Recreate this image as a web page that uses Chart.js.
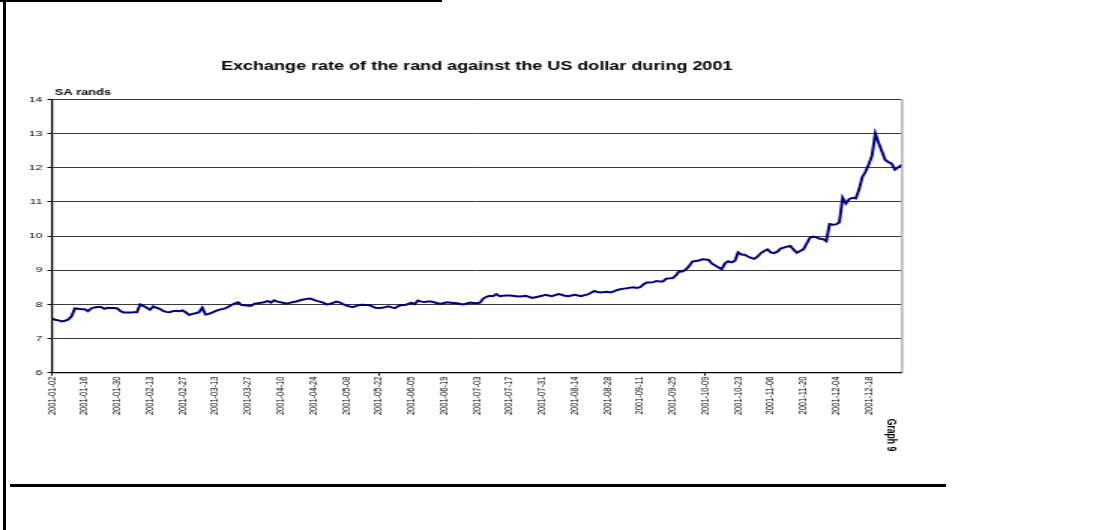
<!DOCTYPE html>
<html>
<head>
<meta charset="utf-8">
<script src="https://cdn.jsdelivr.net/npm/chart.js@4.4.1/dist/chart.umd.min.js"></script>
<style>
  html, body { margin: 0; padding: 0; background: #fff; width: 1111px; height: 530px; overflow: hidden; }
  #wrap { position: absolute; left: 0; top: 0; width: 740px; height: 530px; transform-origin: 0 0; transform: scaleX(1.5014); }
  .frame { position: absolute; background: #000; }
</style>
</head>
<body>
<div class="frame" style="left:3px;top:0;width:3px;height:530px"></div>
<div class="frame" style="left:0;top:0;width:442px;height:2px"></div>
<div class="frame" style="left:10px;top:484px;width:936px;height:3px"></div>
<div id="wrap"><canvas id="c"></canvas></div>
<script>
const chartTitle = 'Exchange rate of the rand against the US dollar during 2001';
const unitLabel = 'SA rands';
const graphLabel = 'Graph 9';
const tickLabels = ['2001-01-02','2001-01-16','2001-01-30','2001-02-13','2001-02-27','2001-03-13','2001-03-27','2001-04-10','2001-04-24','2001-05-08','2001-05-22','2001-06-05','2001-06-19','2001-07-03','2001-07-17','2001-07-31','2001-08-14','2001-08-28','2001-09-11','2001-09-25','2001-10-09','2001-10-23','2001-11-06','2001-11-20','2001-12-04','2001-12-18'];
const yMin = 6, yMax = 14, yStep = 1;
// Rand per US dollar, one value per business day
const values = [
7.58,7.55,7.53,7.50,7.52,7.56,7.65,7.88,7.87,7.86,
7.86,7.80,7.88,7.91,7.92,7.92,7.87,7.90,7.89,7.89,
7.88,7.80,7.76,7.76,7.76,7.77,7.77,8.00,7.95,7.90,
7.84,7.94,7.90,7.87,7.81,7.78,7.77,7.80,7.81,7.80,
7.82,7.76,7.69,7.72,7.74,7.77,7.90,7.70,7.72,7.76,
7.80,7.84,7.86,7.88,7.93,7.98,8.03,8.06,7.98,7.97,
7.96,7.96,8.02,8.03,8.05,8.06,8.10,8.05,8.12,8.08,
8.06,8.04,8.02,8.05,8.07,8.09,8.12,8.14,8.16,8.17,
8.14,8.10,8.08,8.05,8.00,8.01,8.04,8.08,8.06,8.01,
7.97,7.94,7.92,7.95,7.98,7.99,7.98,7.98,7.94,7.90,
7.89,7.90,7.92,7.94,7.91,7.89,7.95,7.98,7.98,8.01,
8.05,8.01,8.11,8.08,8.07,8.08,8.08,8.06,8.03,8.01,
8.04,8.06,8.05,8.04,8.03,8.01,8.00,8.03,8.05,8.04,
8.03,8.05,8.17,8.22,8.25,8.24,8.30,8.24,8.25,8.26,
8.26,8.25,8.24,8.23,8.24,8.25,8.22,8.19,8.21,8.23,
8.25,8.28,8.26,8.24,8.27,8.30,8.28,8.25,8.24,8.26,
8.28,8.26,8.24,8.27,8.29,8.34,8.39,8.36,8.35,8.36,
8.37,8.35,8.38,8.42,8.44,8.46,8.47,8.49,8.50,8.48,
8.50,8.58,8.64,8.64,8.65,8.68,8.67,8.67,8.75,8.76,
8.77,8.85,8.97,8.96,9.02,9.12,9.25,9.27,9.28,9.32,
9.31,9.30,9.19,9.14,9.08,9.03,9.20,9.26,9.23,9.27,
9.52,9.46,9.45,9.40,9.36,9.33,9.40,9.50,9.56,9.61,
9.52,9.50,9.54,9.63,9.66,9.69,9.71,9.60,9.51,9.56,
9.61,9.78,9.95,9.98,9.96,9.92,9.91,9.85,10.35,10.33,
10.34,10.40,11.12,10.95,11.08,11.12,11.10,11.35,11.72,11.88,
12.10,12.35,13.00,12.72,12.48,12.23,12.16,12.12,11.94,12.01,
12.08
];

// business-day categories starting 2001-01-02
const categories = [];
{
  const d = new Date(Date.UTC(2001, 0, 2));
  while (categories.length < values.length) {
    const wd = d.getUTCDay();
    if (wd !== 0 && wd !== 6) categories.push(d.toISOString().slice(0, 10));
    d.setUTCDate(d.getUTCDate() + 1);
  }
}

const FONT = "'Liberation Sans', Arial, sans-serif";

const extras = {
  id: 'extras',
  afterDraw(chart) {
    const ctx = chart.ctx;
    const a = chart.chartArea;
    ctx.save();
    // right border of plot area
    ctx.strokeStyle = '#8c8c8c';
    ctx.lineWidth = 1;
    ctx.beginPath();
    ctx.moveTo(a.right + 0.5, a.top);
    ctx.lineTo(a.right + 0.5, a.bottom);
    ctx.stroke();
    // unit label
    ctx.fillStyle = '#000';
    ctx.font = 'bold 8.5px ' + FONT;
    ctx.textAlign = 'left';
    ctx.textBaseline = 'alphabetic';
    ctx.fillText(unitLabel, a.left + 2, a.top - 4);
    // graph label, rotated
    ctx.translate(593, 435);
    ctx.rotate(Math.PI / 2);
    ctx.font = 'bold 8.6px ' + FONT;
    ctx.textAlign = 'center';
    ctx.textBaseline = 'middle';
    ctx.fillText(graphLabel, 0, 0);
    ctx.restore();
  }
};

new Chart(document.getElementById('c'), {
  type: 'line',
  data: {
    labels: categories,
    datasets: [{
      label: 'Rand per US dollar',
      data: values,
      borderColor: '#000080',
      backgroundColor: '#000080',
      borderWidth: 2,
      pointRadius: 0,
      tension: 0,
      fill: false
    }]
  },
  options: {
    responsive: true,
    maintainAspectRatio: false,
    animation: false,
    layout: { padding: { left: 0, right: 139.6, top: 0, bottom: 0 } },
    plugins: {
      legend: { display: false },
      tooltip: { enabled: false },
      title: {
        display: true,
        fullSize: false,
        text: chartTitle,
        color: '#000',
        font: { family: FONT, size: 12, weight: 'bold' },
        padding: { top: 59.3, bottom: 25.6 }
      }
    },
    scales: {
      x: {
        type: 'category',
        afterFit(scale) { scale.height = 157.3; },
        grid: {
          drawOnChartArea: false,
          drawTicks: true,
          tickLength: 3,
          tickColor: (c) => (c.index % 10 === 0 && c.index <= 250) ? '#000' : 'rgba(0,0,0,0)',
          color: 'rgba(0,0,0,0)'
        },
        border: { display: true, color: '#000', width: 1.2 },
        ticks: {
          autoSkip: false,
          minRotation: 90,
          maxRotation: 90,
          padding: 1,
          color: '#000',
          font: { family: FONT, size: 7.5 },
          callback: function (v, i) {
            const lab = categories[i];
            return tickLabels.includes(lab) ? lab : null;
          }
        }
      },
      y: {
        min: yMin,
        max: yMax,
        afterFit(scale) { scale.width = 34.6; },
        grid: {
          color: '#3a3a3a',
          lineWidth: 1,
          drawTicks: true,
          tickLength: 3,
          tickColor: '#000'
        },
        border: { display: true, color: '#000', width: 1.3 },
        ticks: {
          stepSize: yStep,
          padding: 3.5,
          color: '#000',
          font: { family: FONT, size: 8 }
        }
      }
    }
  },
  plugins: [extras]
});
</script>
</body>
</html>
